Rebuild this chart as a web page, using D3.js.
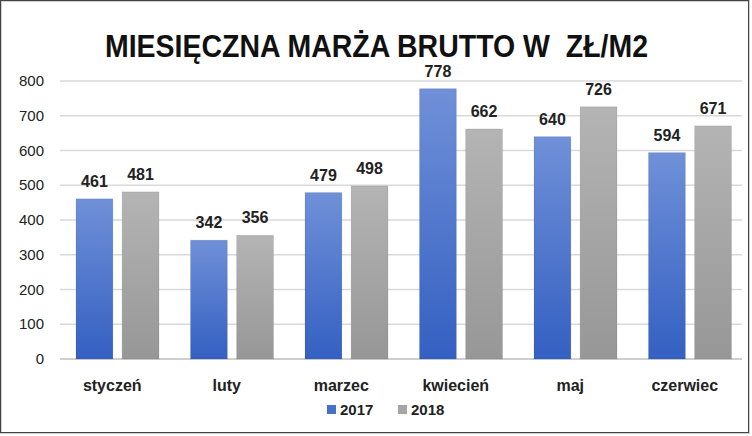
<!DOCTYPE html>
<html><head><meta charset="utf-8">
<script src="https://cdn.jsdelivr.net/npm/d3@7"></script>
<style>body{margin:0;background:#fff}</style>
</head><body><svg width="752" height="436"></svg>
<script>
var months=['styczeń','luty','marzec','kwiecień','maj','czerwiec'];
var series=['2017','2018'];
var v2017=[461,342,479,778,640,594];
var v2018=[481,356,498,662,726,671];
var yTicks=[0,100,200,300,400,500,600,700,800];

var svg=d3.select('svg');
var defs=svg.append('defs');
var g1=defs.append('linearGradient').attr('id','gb').attr('x1',0).attr('y1',0).attr('x2',0).attr('y2',1);
g1.append('stop').attr('offset','0%').attr('stop-color','#7090d8');
g1.append('stop').attr('offset','100%').attr('stop-color','#3460c2');
var g2=defs.append('linearGradient').attr('id','gg').attr('x1',0).attr('y1',0).attr('x2',0).attr('y2',1);
g2.append('stop').attr('offset','0%').attr('stop-color','#b4b4b4');
g2.append('stop').attr('offset','100%').attr('stop-color','#979797');
var colors=['url(#gb)','url(#gg)'];
var legendColors=['#4472c4','#a5a5a5'];

svg.append('rect').attr('x',1).attr('y',1).attr('width',748).attr('height',432).attr('fill','white').attr('stroke','#d0d0d0').attr('stroke-width',2);
svg.append('rect').attr('x',0.5).attr('y',0.5).attr('width',748).attr('height',432).attr('fill','none').attr('stroke','#444').attr('stroke-width',1);

svg.append('text').attr('x',105).attr('y',57).attr('xml:space','preserve')
  .attr('textLength',543).attr('lengthAdjust','spacingAndGlyphs')
  .attr('font-family','Liberation Sans').attr('font-weight','bold').attr('font-size',31)
  .attr('fill','#111').text('MIESIĘCZNA MARŻA BRUTTO W  ZŁ/M2');

var x=d3.scaleBand().domain(months).range([55,742]);
var xs=d3.scaleBand().domain(series).range([21,104]).paddingInner(0.2);
var y=d3.scaleLinear().domain([0,800]).range([359,81]);

var grid=svg.append('g');
grid.selectAll('line').data(yTicks).join('line')
  .attr('x1',60).attr('x2',742).attr('y1',function(d){return y(d)}).attr('y2',function(d){return y(d)})
  .attr('stroke',function(d){return d===0?'#bfbfbf':'#d9d9d9'}).attr('stroke-width',1.3);
svg.append('g').selectAll('text').data(yTicks).join('text')
  .attr('x',44).attr('y',function(d){return y(d)+5}).attr('text-anchor','end')
  .attr('font-family','Liberation Sans').attr('font-size',15).attr('fill','#222').text(function(d){return d});

var vals=[v2017,v2018];
series.forEach(function(s,i){
  var g=svg.append('g');
  g.selectAll('rect').data(months).join('rect')
    .attr('x',function(d){return x(d)+xs(s)}).attr('width',xs.bandwidth())
    .attr('y',function(d,j){return y(vals[i][j])}).attr('height',function(d,j){return y(0)-y(vals[i][j])})
    .attr('fill',colors[i]).attr('stroke','rgba(0,0,0,0.08)');
  g.selectAll('text').data(months).join('text')
    .attr('x',function(d){return x(d)+xs(s)+xs.bandwidth()/2}).attr('y',function(d,j){return y(vals[i][j])-12})
    .attr('text-anchor','middle').attr('font-family','Liberation Sans').attr('font-weight','bold').attr('font-size',16)
    .attr('fill','#222').text(function(d,j){return vals[i][j]});
});

svg.append('g').selectAll('text').data(months).join('text')
  .attr('x',function(d){return x(d)+x.bandwidth()/2}).attr('y',391).attr('text-anchor','middle')
  .attr('font-family','Liberation Sans').attr('font-weight','bold').attr('font-size',16).attr('fill','#222')
  .text(function(d){return d});

var lx=[327,398];
series.forEach(function(s,i){
  svg.append('rect').attr('x',lx[i]).attr('y',405).attr('width',9).attr('height',9).attr('fill',legendColors[i]);
  svg.append('text').attr('x',lx[i]+13).attr('y',415).attr('font-family','Liberation Sans').attr('font-weight','bold')
    .attr('font-size',15).attr('fill','#222').text(s);
});
</script></body></html>
